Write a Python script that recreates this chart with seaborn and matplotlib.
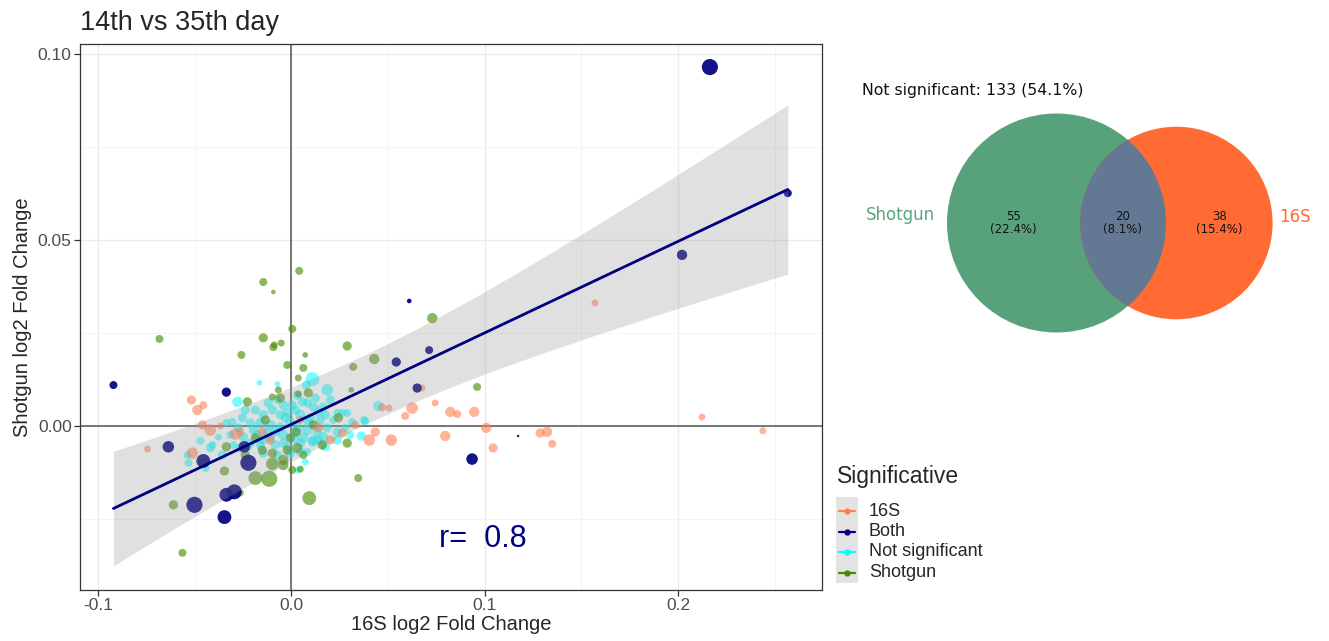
import numpy as np
import pandas as pd
import matplotlib

matplotlib.use("Agg")

import matplotlib.pyplot as plt
import seaborn as sns
from matplotlib.lines import Line2D
from matplotlib.patches import Circle, Rectangle

# --- scatter data: x = 16S log2FC, y = Shotgun log2FC, abund = point size variable
both_x = [-0.092, -0.0336, -0.0636, -0.0455, -0.0243, -0.0222, -0.0501, -0.0336, -0.0295, -0.0346,
          0.061, 0.0713, 0.0543, 0.0651, 0.1173, 0.0935, 0.2165, 0.2021, 0.2568]
both_y = [0.011, 0.0091, -0.0056, -0.0094, -0.0056, -0.0099, -0.0212, -0.0185, -0.0177, -0.0245,
          0.0336, 0.0204, 0.0172, 0.0102, -0.0027, -0.0089, 0.0965, 0.046, 0.0626]
both_abund = [12, 16, 25, 36, 25, 49, 49, 36, 42, 36, 4, 12, 16, 16, 1, 25, 49, 20, 12]

s16_x = [-0.0517, -0.0455, -0.0486, -0.046, -0.0419, -0.0367, -0.0289, -0.0744, -0.0512, 0.0264,
         0.0403, 0.0434, 0.1571, 0.2124, 0.2439, 0.0744, 0.0625, 0.0589, 0.0822, 0.0858,
         0.0946, 0.1008, 0.1044, 0.0796, 0.0517, 0.1287, 0.1323, 0.1349, 0.0677, 0.0506,
         0.047, -0.0264, -0.015, 0.0047, 0.014, -0.0109, 0.033, 0.0202]
s16_y = [0.007, 0.0056, 0.0043, 0.0003, -0.0011, 0.0, -0.0022, -0.0062, -0.0073, -0.0019,
         -0.0038, -0.0016, 0.0331, 0.0024, -0.0013, 0.0062, 0.0048, 0.0027, 0.0038, 0.0032,
         0.0038, -0.0005, -0.0059, -0.0027, -0.0038, -0.0019, -0.0016, -0.0048, 0.0102, 0.0048,
         0.005, -0.0016, -0.0016, 0.0016, -0.0005, -0.0038, 0.0003, -0.0038]
s16_abund = [16, 12, 20, 16, 25, 9, 25, 9, 25, 16, 25, 16, 9, 9, 9, 9, 25, 12, 20, 12,
             20, 20, 16, 20, 25, 16, 20, 12, 9, 9, 12, 12, 16, 12, 16, 16, 12, 16]

shot_x = [0.0041, -0.0145, -0.0093, -0.0682, 0.0005, -0.0145, -0.0052, -0.0093, -0.0088, -0.0258,
          0.0072, 0.0289, -0.0021, 0.0062, 0.0036, 0.032, 0.0429, 0.031, 0.0088, 0.0036,
          -0.0067, -0.0057, -0.0098, -0.0227, 0.0289, -0.0336, 0.0031, -0.0021, -0.0098, -0.0041,
          -0.0098, -0.0041, 0.0005, 0.0047, -0.0114, -0.0186, -0.0346, 0.0093, 0.0346, -0.061,
          -0.0563, -0.0264, 0.0062, -0.0455, 0.0729, 0.0961, -0.015, 0.0114, -0.0005, 0.016,
          -0.0186, 0.0243, -0.0134, -0.0238, 0.0026]
shot_y = [0.0417, 0.0387, 0.036, 0.0234, 0.0261, 0.0237, 0.0223, 0.0212, 0.0218, 0.0191,
          0.0191, 0.0215, 0.0164, 0.0156, 0.0129, 0.0159, 0.018, 0.0097, 0.0089, 0.0086,
          0.0097, 0.0075, 0.0078, 0.0065, -0.0046, -0.0056, -0.0059, -0.0065, -0.0073, -0.0091,
          -0.0102, -0.0105, -0.0118, -0.0116, -0.0142, -0.014, -0.0121, -0.0194, -0.014, -0.0212,
          -0.0341, -0.018, -0.0078, -0.01, 0.029, 0.0105, -0.0065, 0.0003, -0.0032, -0.0051,
          -0.0032, 0.0022, 0.0016, -0.0078, -0.0016]
shot_abund = [12, 12, 4, 12, 12, 16, 9, 12, 9, 12, 6, 16, 12, 12, 9, 12, 20, 6, 16, 9,
              9, 16, 9, 16, 16, 16, 20, 16, 16, 20, 30, 20, 12, 9, 49, 36, 16, 36, 12, 16,
              12, 9, 12, 16, 20, 12, 16, 16, 16, 16, 16, 16, 16, 16, 16]

ns_x = [-0.0165, -0.0072, 0.0109, 0.0078, 0.0186, -0.0279, -0.0119, -0.0072, 0.0057, 0.0083,
        0.0114, 0.0165, 0.0238, 0.0289, -0.0145, -0.0057, -0.0021, 0.0047, 0.0098, 0.015,
        0.0217, -0.0305, -0.0253, -0.0212, -0.016, -0.0109, -0.0057, -0.0005, 0.0036, 0.0083,
        0.0134, 0.0186, 0.0238, -0.0377, -0.0315, -0.0248, -0.0176, -0.0109, -0.0041, 0.001,
        0.0062, 0.0114, 0.0165, -0.047, -0.0408, -0.03, -0.0227, -0.016, -0.0083, -0.0021,
        0.0047, 0.0109, -0.0537, -0.0532, -0.0419, -0.0145, -0.0072, -0.0005, 0.0047, 0.0083,
        0.0036, -0.0444, 0.0362, 0.0382, 0.045, 0.0377, -0.0336, 0.0264, 0.0315, -0.0124,
        -0.0031, 0.0021, 0.014, -0.0196, -0.0274, 0.0176, 0.0238, 0.0072, -0.0098, -0.0041,
        0.0005, 0.0124, 0.0176, 0.0021, -0.0083, -0.015, -0.0212, -0.0041, 0.0088, 0.014,
        0.0279, 0.0305, -0.0264, -0.0357, -0.0186, -0.0238, 0.0202, 0.0031]
ns_y = [0.0116, 0.0113, 0.0126, 0.011, 0.0097, 0.0065, 0.0062, 0.007, 0.0065, 0.0062,
        0.0051, 0.0051, 0.0035, 0.0035, 0.003, 0.003, 0.0035, 0.003, 0.0022, 0.0016,
        0.0016, 0.0011, 0.0022, 0.0008, 0.0008, 0.0003, -0.0003, 0.0008, -0.0005, -0.0011,
        -0.0016, -0.0005, -0.0016, -0.003, -0.0024, -0.003, -0.0024, -0.003, -0.0024, -0.0032,
        -0.0032, -0.0038, -0.003, -0.004, -0.0051, -0.0051, -0.0056, -0.0051, -0.0051, -0.0056,
        -0.0046, -0.0043, -0.0078, -0.0099, -0.0059, -0.0073, -0.0078, -0.0073, -0.007, -0.007,
        -0.0118, -0.0113, -0.0027, 0.0013, 0.0054, 0.0016, 0.0008, 0.0035, 0.0011, -0.0016,
        0.0022, 0.0043, 0.0038, -0.0011, -0.0005, -0.0056, -0.0038, -0.0097, 0.0043, 0.0056,
        0.0056, 0.0075, 0.003, -0.0016, -0.0016, -0.0038, -0.0046, -0.0046, 0.0011, -0.0038,
        -0.0005, -0.0024, -0.0059, -0.0078, 0.0043, 0.0043, 0.007, 0.0083]
ns_abund = [6, 6, 36, 16, 25, 20, 16, 12, 16, 16, 16, 16, 12, 12, 16, 16, 16, 20, 16, 16,
            12, 12, 16, 16, 20, 20, 16, 20, 16, 20, 16, 16, 16, 9, 12, 16, 20, 16, 20, 20,
            20, 20, 20, 12, 12, 12, 16, 16, 16, 16, 16, 16, 12, 12, 16, 16, 16, 16, 16, 12,
            9, 12, 16, 12, 20, 12, 12, 12, 12, 16, 16, 16, 16, 16, 16, 16, 16, 9, 16, 16,
            16, 16, 16, 16, 16, 16, 16, 16, 16, 16, 12, 12, 16, 16, 16, 16, 16, 16]

groups = ["16S", "Both", "Not significant", "Shotgun"]
group_colors = {"16S": "#FF7F50", "Both": "#000080", "Not significant": "#00FFFF", "Shotgun": "#458B00"}
group_alpha = {"16S": 0.58, "Both": 0.92, "Not significant": 0.55, "Shotgun": 0.62}

# --- venn counts
only_shotgun = 55
only_16s = 38
in_both = 20
not_significant = 133

frames = []
for name, xs, ys, ab in [("16S", s16_x, s16_y, s16_abund), ("Both", both_x, both_y, both_abund),
                         ("Not significant", ns_x, ns_y, ns_abund), ("Shotgun", shot_x, shot_y, shot_abund)]:
    frames.append(pd.DataFrame({"lfc_16s": xs, "lfc_shotgun": ys, "abund": ab, "sig": name}))
df = pd.concat(frames, ignore_index=True)

sns.set_theme(style="whitegrid")
plt.rcParams["font.family"] = ["Liberation Sans", "DejaVu Sans"]

W, H = 1329, 641
fig = plt.figure(figsize=(W / 100, H / 100), dpi=100)
ax = fig.add_axes([80 / W, 51 / H, 742 / W, 546 / H])

ax.axhline(0, color="#555555", lw=1.1, zorder=1)
ax.axvline(0, color="#555555", lw=1.1, zorder=1)

draw_order = ["Not significant", "Shotgun", "16S", "Both"]
for name in draw_order:
    sub = df[df["sig"] == name]
    sns.scatterplot(data=sub, x="lfc_16s", y="lfc_shotgun", size="abund", sizes=(3, 135),
                    size_norm=(1, 49), color=group_colors[name], alpha=group_alpha[name],
                    linewidth=0, legend=False, ax=ax, zorder=3)

# linear fit on the "Both" features with a t-based 95% band (like geom_smooth(method="lm"))
both_df = df[df["sig"] == "Both"]
bx = both_df["lfc_16s"].to_numpy()
by = both_df["lfc_shotgun"].to_numpy()
n = len(bx)
slope, intercept = np.polyfit(bx, by, 1)
resid = by - (intercept + slope * bx)
s_err = np.sqrt(np.sum(resid ** 2) / (n - 2))
sxx = np.sum((bx - bx.mean()) ** 2)
t_crit = 2.11  # t(0.975, df=17)
xg = np.linspace(bx.min(), bx.max(), 120)
yg = intercept + slope * xg
half = t_crit * s_err * np.sqrt(1 / n + (xg - bx.mean()) ** 2 / sxx)
ax.fill_between(xg, yg - half, yg + half, color="#999999", alpha=0.3, lw=0, zorder=4)
sns.regplot(data=both_df, x="lfc_16s", y="lfc_shotgun", scatter=False, ci=None,
            color="#000080", line_kws={"lw": 2, "zorder": 5}, ax=ax)

r_val = np.corrcoef(bx, by)[0, 1]
ax.text(0.099, -0.0304, f"r=  {r_val:.1f}", color="#000080", fontsize=22, ha="center", va="center", zorder=6)

ax.set_xlim(-0.1093, 0.2745)
ax.set_ylim(-0.0441, 0.1027)
ax.set_xticks([-0.1, 0.0, 0.1, 0.2])
ax.set_xticklabels(["-0.1", "0.0", "0.1", "0.2"])
ax.set_yticks([0.0, 0.05, 0.10])
ax.set_yticklabels(["0.00", "0.05", "0.10"])
ax.set_xticks([-0.05, 0.05, 0.15, 0.25], minor=True)
ax.set_yticks([-0.025, 0.025, 0.075], minor=True)
ax.grid(which="major", color="#EBEBEB", lw=1.0)
ax.grid(which="minor", color="#F3F3F3", lw=0.6)
ax.tick_params(which="major", length=4, width=0.9, color="#333333", labelcolor="#4D4D4D",
               labelsize=12.5, bottom=True, left=True, pad=2)
ax.tick_params(which="minor", length=0)
for sp in ax.spines.values():
    sp.set_color("#333333")
    sp.set_linewidth(0.9)
ax.set_xlabel("16S log2 Fold Change", fontsize=14.5, labelpad=1)
ax.set_ylabel("Shotgun log2 Fold Change", fontsize=14.5, labelpad=4)
ax.set_title("14th vs 35th day", loc="left", fontsize=19.5, pad=10)

# --- overlay axes in pixel units for the legend and the venn diagram
ov = fig.add_axes([0, 0, 1, 1], zorder=10)
ov.set_xlim(0, W)
ov.set_ylim(H, 0)
ov.axis("off")

ov.text(837, 476, "Significative", fontsize=16.5, va="center", ha="left")
ov.add_patch(Rectangle((836, 497), 22, 86, facecolor="#E3E3E3", edgecolor="none"))
for i, name in enumerate(groups):
    yk = 511 + i * 20.5
    ov.add_line(Line2D([839, 855], [yk, yk], color=group_colors[name], lw=1.6))
    ov.plot([847], [yk], marker="o", markersize=3.5, color=group_colors[name], lw=0)
    ov.text(869, yk, name, fontsize=13, va="center", ha="left")

# venn: area-proportional circles
total = only_shotgun + only_16s + in_both + not_significant
n1 = only_shotgun + in_both
n2 = only_16s + in_both
k = 12.644  # pixels per sqrt(count)
r1 = k * np.sqrt(n1)
r2 = k * np.sqrt(n2)
target = np.pi * k ** 2 * in_both


def lens_area(d, ra, rb):
    a1 = ra ** 2 * np.arccos((d ** 2 + ra ** 2 - rb ** 2) / (2 * d * ra))
    a2 = rb ** 2 * np.arccos((d ** 2 + rb ** 2 - ra ** 2) / (2 * d * rb))
    a3 = 0.5 * np.sqrt((-d + ra + rb) * (d + ra - rb) * (d - ra + rb) * (d + ra + rb))
    return a1 + a2 - a3


lo, hi = abs(r1 - r2) + 1e-6, r1 + r2 - 1e-6
for _ in range(80):
    mid = (lo + hi) / 2
    if lens_area(mid, r1, r2) > target:
        lo = mid
    else:
        hi = mid
dist = (lo + hi) / 2

cy = 223
c1x = 947 + r1
c2x = c1x + dist
left_c = Circle((c1x, cy), r1, facecolor="#57A27A", edgecolor="none")
right_c = Circle((c2x, cy), r2, facecolor="#FF6B33", edgecolor="none")
ov.add_patch(left_c)
ov.add_patch(right_c)
mid_c = Circle((c2x, cy), r2, facecolor="#637993", edgecolor="none")
ov.add_patch(mid_c)
mid_c.set_clip_path(left_c)

vf = ["DejaVu Sans"]
for cnt, xpos in [(only_shotgun, ((c1x - r1) + (c2x - r2)) / 2),
                  (in_both, ((c2x - r2) + (c1x + r1)) / 2),
                  (only_16s, ((c1x + r1) + (c2x + r2)) / 2)]:
    ov.text(xpos, cy, f"{cnt}\n({cnt / total * 100:.1f}%)", family=vf, fontsize=8.5,
            ha="center", va="center", linespacing=0.95, color="#111111")
ov.text(c1x - r1 - 12, cy - 8, "Shotgun", family=vf, fontsize=12, color="#5BA37D", ha="right", va="center")
ov.text(c2x + r2 + 7, cy - 6, "16S", family=vf, fontsize=12, color="#FF6B33", ha="left", va="center")
ov.text(862, 90, f"Not significant: {not_significant} ({not_significant / total * 100:.1f}%)",
        family=vf, fontsize=11.3, ha="left", va="center", color="#111111")

fig.savefig("out.png", dpi=100)
